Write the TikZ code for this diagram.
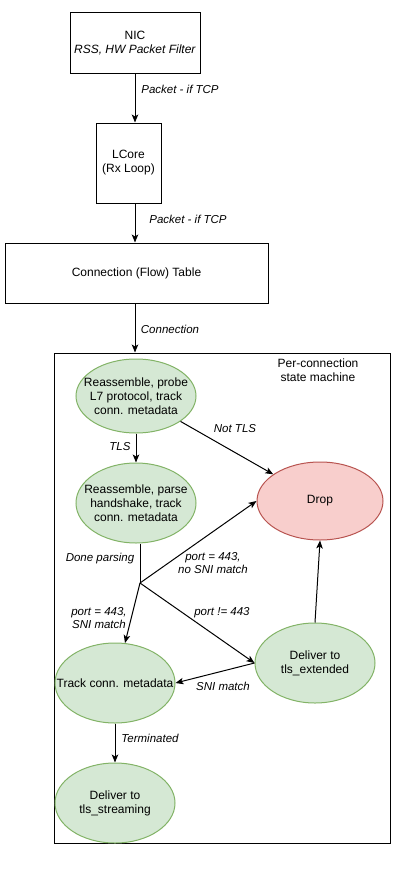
\documentclass[tikz,border=0pt]{standalone}
\usepackage{fontspec}
\setmainfont{Liberation Sans}
\usetikzlibrary{shapes.geometric,arrows.meta}
\definecolor{gfill}{HTML}{D5E8D4}
\definecolor{gline}{HTML}{82B366}
\definecolor{rfill}{HTML}{F8CECC}
\definecolor{rline}{HTML}{B85450}
\begin{document}
\begin{tikzpicture}[x=1pt,y=-1pt,
  box/.style={draw=black,line width=1pt,inner sep=0pt,align=center,font=\fontsize{12}{14}\selectfont},
  gstate/.style={ellipse,draw=gline,fill=gfill,line width=1pt,inner xsep=-30pt,inner ysep=-5pt,minimum width=120pt,minimum height=80pt,align=center,font=\fontsize{12}{14}\selectfont},
  rstate/.style={ellipse,draw=rline,fill=rfill,line width=1pt,inner sep=0pt,minimum width=126pt,minimum height=78pt,align=center,font=\fontsize{12}{14}\selectfont},
  lbl/.style={inner sep=0pt,align=center,font=\fontsize{11.5}{13}\selectfont\itshape},
  txt/.style={inner sep=0pt,align=center,font=\fontsize{12}{14}\selectfont},
  arr/.style={line width=1pt,-{Stealth[length=8pt,width=6.5pt,inset=2pt]}},
  ln/.style={line width=1pt}]
\useasboundingbox (0,0) rectangle (414,875);
% top boxes
\node[box,minimum width=130pt,minimum height=60pt] (nic) at (135,43) {NIC\\\textit{RSS, HW Packet Filter}};
\node[box,minimum width=65pt,minimum height=80pt] (lcore) at (128.5,163) {LCore\\(Rx Loop)};
\node[box,minimum width=263pt,minimum height=60pt] (ct) at (136.5,273) {Connection (Flow) Table};
\node[draw=black,line width=1pt,inner sep=0pt,minimum width=336pt,minimum height=490pt] (sm) at (222,598) {};
\node[txt] (smlbl) at (318,370) {Per-connection\\state machine};
% top arrows
\draw[arr] (nic.south) -- (nic.south |- lcore.north);
\draw[arr] (nic.south |- lcore.south) -- (nic.south |- ct.north);
\draw[arr] (nic.south |- ct.south) -- (nic.south |- sm.north);
\node[lbl] (l1) at (180,89) {Packet - if TCP};
\node[lbl] (l2) at (188,219) {Packet - if TCP};
\node[lbl] (l3) at (170,329) {Connection};
% states
\node[gstate,minimum height=74pt] (e1) at (136,396) {Reassemble, probe\\L7 protocol, track\\conn. metadata};
\node[gstate] (e2) at (136,503) {Reassemble, parse\\handshake, track\\conn. metadata};
\node[rstate] (drop) at (320,501) {Drop};
\node[gstate] (track) at (115,683) {Track conn. metadata};
\node[gstate] (ext) at (315,663) {Deliver to\\tls\_extended};
\node[gstate] (stream) at (115,803) {Deliver to\\tls\_streaming};
\coordinate (bp) at (140,583);
% state arrows
\draw[arr] (e1.south) -- (e2.north);
\draw[arr] (e1) -- (drop);
\draw[ln] (e2.south -| bp) -- (bp);
\draw[arr] (bp) -- (drop.west);
\draw[arr] (bp) -- (track);
\draw[arr] (bp) -- (ext.west);
\draw[arr] (ext.west) -- (track.east);
\draw[arr] (ext.north) -- (drop.south);
\draw[arr] (track.south) -- (stream.north);
% labels
\node[lbl] (lnt) at (235,429) {Not TLS};
\node[lbl] (ltls) at (120,447) {TLS};
\node[lbl] (ldp) at (100,559) {Done parsing};
\node[lbl] (lnosni) at (213,563) {port = 443,\\no SNI match};
\node[lbl] (lsni) at (99,618) {port = 443,\\SNI match};
\node[lbl] (lport) at (222,613) {port != 443};
\node[lbl] (lsm) at (223,686) {SNI match};
\node[lbl] (lterm) at (150,738) {Terminated};
\end{tikzpicture}
\end{document}
